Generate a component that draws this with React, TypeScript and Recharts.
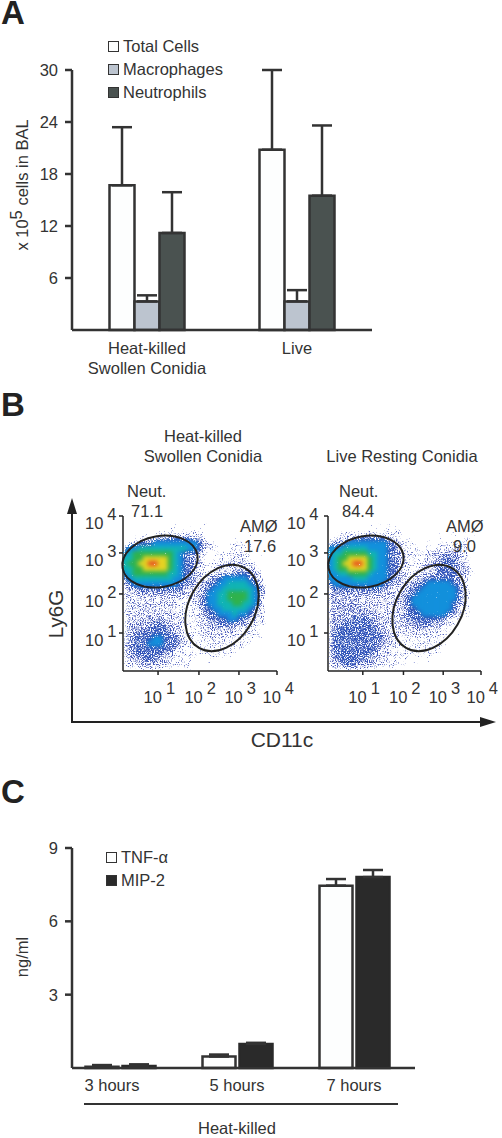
import {
  BarChart,
  Bar,
  ErrorBar,
  XAxis,
  YAxis,
  Legend,
  ScatterChart,
  Scatter,
} from 'recharts';

const FONT = '"Liberation Sans", Arial, sans-serif';
const INK = '#333333';

// panel A: cells in BAL
const cellGroups = ['Heat-killed\nSwollen Conidia', 'Live'];
const totalCells = [16.7, 20.8];
const totalCellsErr = [6.7, 9.2];
const macrophages = [3.3, 3.3];
const macrophagesErr = [0.7, 1.3];
const neutrophils = [11.2, 15.5];
const neutrophilsErr = [4.7, 8.1];
const cellTicks = [6, 12, 18, 24, 30];

const cellData = cellGroups.map((group, i) => ({
  group,
  total: totalCells[i],
  totalErr: [0, totalCellsErr[i]],
  mac: macrophages[i],
  macErr: [0, macrophagesErr[i]],
  neut: neutrophils[i],
  neutErr: [0, neutrophilsErr[i]],
}));

// panel C: cytokines
const hours = ['3 hours', '5 hours', '7 hours'];
const tnf = [0.05, 0.47, 7.46];
const tnfErr = [0.07, 0.08, 0.27];
const mip2 = [0.08, 0.98, 7.81];
const mip2Err = [0.07, 0.05, 0.29];
const cytokineTicks = [3, 6, 9];

const cytokineData = hours.map((hour, i) => ({
  hour,
  tnf: tnf[i],
  tnfErr: [0, tnfErr[i]],
  mip2: mip2[i],
  mip2Err: [0, mip2Err[i]],
}));

// panel B: flow plots, axes in channels 0-1024
const flowXTicks = [233, 505, 771, 1024];
const flowYTicks = [251, 509, 780, 1024];
const decades = ['1', '2', '3', '4'];

// density, 31 x 31 cells, top row first. '.' is empty
const heatKilledDensity = [
  '..............1................',
  '.......1..1..1..1..........1...',
  '.....1.1.11.1.11.......1.1.....',
  '..1.1.11111111111....1...1.1...',
  '..112223344444332.1.1.11.1.1...',
  '.334445555555554321..11111.1...',
  '45566666666665543211.111111.1..',
  '56777777776544321.11111211.1...',
  '66778888876544321.11112221.1...',
  '677889988765443211112222211....',
  '66778888876544321112222233211..',
  '5677777776654432112233344332...',
  '45666666665544321344555554321..',
  '34555555555444223445566665431..',
  '33344444444433233455666666542..',
  '22233333333321234556677776532..',
  '22222222222211234556677776531..',
  '22222222222111234556667766531..',
  '22222222222111134455666665421..',
  '22222222222211123445556554321..',
  '22223333322211123444455443211..',
  '22333344332211122334443332211..',
  '2333344443321111233333222211 1.',
  '2334444444321111222222211111...',
  '3344445544432111122211111111...',
  '33444555444321111211111111.....',
  '3344444444321111111111111.1....',
  '33444444332111111111111...1....',
  '223344433211111.1111.1.........',
  '12223332211111.1.1.1.....1.....',
  '11122222111111..1..........1...',
];

const liveRestingDensity = [
  '..........1.1...........1......',
  '...1....1.1.1..1.1.....1.......',
  '..1.1.1.11.1111.......1..1.1...',
  '..1111112111111.1...1.1.11.1.1.',
  '11223344444332111...1.11.1.11..',
  '334455555555442111..1.1111111.1',
  '55566666555544211111111223321..',
  '56677777665544321111223333321..',
  '56778888765544321111223444321..',
  '56788998765544321112233444321..',
  '567788887655443211122344443321.',
  '556677776555443211223344443321.',
  '55555666555544321233444444321..',
  '45555555555443222344555554421..',
  '34444444444332223445555555421..',
  '33333333333222234455555555421..',
  '33333332222222234555555555421..',
  '33333322222222234555555554321..',
  '33333333322222234455555554311..',
  '33333333332222234445555543211..',
  '3333344443322223444444432111...',
  '33344444433222223344433211.1...',
  '33444444443222222333322111.....',
  '3444444444432221122221111 1....',
  '3444444444432211111111111 .....',
  '344444444433221111111111.1.....',
  '344444444432211111111111.......',
  '34444444433221111111111...1....',
  '33444444332211111.1.1..........',
  '2334443332211111.11.1......1...',
  '12233322211111.1.........1.....',
];

const neutGates = { heatKilled: { x: 246, y: 723 }, live: { x: 254, y: 723 } };
const amGates = { heatKilled: { x: 658, y: 416 }, live: { x: 676, y: 416 } };

const DENSITY_COLORS: Record<string, string> = {
  '1': '#4c5cbc',
  '2': '#4c5cbc',
  '3': '#4256b8',
  '4': '#3054ba',
  '5': '#1290dc',
  '6': '#10b4b4',
  '7': '#2fb24c',
  '8': '#e6d422',
  '9': '#e84a24',
};

// low levels stay sparse: the grain filter below turns alpha into speckle
const DENSITY_ALPHA: Record<string, number> = {
  '1': 0.42,
  '2': 0.5,
  '3': 0.57,
  '4': 0.68,
};

function densityCells(rows: string[]) {
  const cells: { x: number; y: number; level: string }[] = [];
  const size = 1024 / rows.length;
  rows.forEach((row, r) => {
    row.split('').forEach((level, c) => {
      if (!DENSITY_COLORS[level]) return;
      cells.push({ x: (c + 0.5) * size, y: 1024 - (r + 0.5) * size, level });
    });
  });
  return cells;
}

function DensityCell({ cx, cy, payload }: any) {
  return (
    <rect
      x={cx - 2.5}
      y={cy - 2.5}
      width={5}
      height={5}
      fill={DENSITY_COLORS[payload.level]}
      fillOpacity={DENSITY_ALPHA[payload.level] ?? 1}
    />
  );
}

function NeutGate({ cx, cy }: any) {
  return (
    <ellipse cx={cx} cy={cy} rx={38} ry={25.5} fill="none" stroke="#222" strokeWidth={2}
      transform={`rotate(-10 ${cx} ${cy})`} />
  );
}

function AmGate({ cx, cy }: any) {
  return (
    <ellipse cx={cx} cy={cy} rx={46} ry={33} fill="none" stroke="#222" strokeWidth={2}
      transform={`rotate(-60 ${cx} ${cy})`} />
  );
}

function FlowXTick({ x, y, index }: any) {
  return (
    <text x={x - 14.5} y={y + 26} fontSize={16.5} fill={INK} fontFamily={FONT}>
      10
      <tspan dx={4} dy={-9}>{decades[index]}</tspan>
    </text>
  );
}

function FlowYTick({ x, y, index, shift }: any) {
  return (
    <text x={x + shift} y={y + 13} fontSize={16.5} fill={INK} fontFamily={FONT}>
      10
      <tspan dx={4} dy={-9}>{decades[index]}</tspan>
    </text>
  );
}

function FlowPlot({ rows, neut, am, left, width, right, labelShift }: any) {
  return (
    <div style={{ position: 'absolute', left, top: 500 }}>
      <ScatterChart width={width} height={215} margin={{ top: 16, right, bottom: 0, left: 0 }}>
        <XAxis
          type="number"
          dataKey="x"
          domain={[0, 1024]}
          ticks={flowXTicks}
          height={44}
          tickSize={4}
          tickLine={{ stroke: '#222', strokeWidth: 1.5 }}
          axisLine={{ stroke: '#222', strokeWidth: 1.5 }}
          tick={<FlowXTick />}
        />
        <YAxis
          type="number"
          dataKey="y"
          domain={[0, 1024]}
          ticks={flowYTicks}
          width={45}
          tickSize={4}
          tickLine={{ stroke: '#222', strokeWidth: 1.5 }}
          axisLine={{ stroke: '#222', strokeWidth: 1.5 }}
          tick={<FlowYTick shift={labelShift} />}
        />
        <Scatter className="density" data={densityCells(rows)} shape={<DensityCell />} isAnimationActive={false} />
        <Scatter data={[neut]} shape={<NeutGate />} isAnimationActive={false} />
        <Scatter data={[am]} shape={<AmGate />} isAnimationActive={false} />
      </ScatterChart>
    </div>
  );
}

function GroupTick({ x, y, payload }: any) {
  const lines = String(payload.value).split('\n');
  return (
    <text x={x} y={y + 16} textAnchor="middle" fontSize={16.5} fill={INK} fontFamily={FONT}>
      {lines.map((line, i) => (
        <tspan key={line} x={x} dy={i === 0 ? 0 : 20}>{line}</tspan>
      ))}
    </text>
  );
}

function HourTick({ x, y, payload, index }: any) {
  return (
    <text x={index === 0 ? x - 8 : x} y={y + 15} textAnchor="middle" fontSize={16.5} fill={INK} fontFamily={FONT}>
      {payload.value}
    </text>
  );
}

function LegendRows({ items, rowHeight }: any) {
  return (
    <div>
      {items.map((item: any) => (
        <div key={item.label} style={{ display: 'flex', alignItems: 'center', height: rowHeight, fontSize: 16.5, color: INK, fontFamily: FONT }}>
          <span style={{ width: 9, height: 9, background: item.fill, border: '1.5px solid #333', marginRight: 4, flex: 'none' }} />
          {item.label}
        </div>
      ))}
    </div>
  );
}

const cellLegend = [
  { label: 'Total Cells', fill: '#fdfefe' },
  { label: 'Macrophages', fill: '#bcc4cf' },
  { label: 'Neutrophils', fill: '#4a5250' },
];
const cytokineLegend = [
  { label: 'TNF-α', fill: '#fdfefe' },
  { label: 'MIP-2', fill: '#2a2a2a' },
];

const axisStroke = { stroke: INK, strokeWidth: 2.5 };

function CellsChart() {
  return (
    <div style={{ position: 'absolute', left: 0, top: 0 }}>
      <BarChart
        width={502}
        height={390}
        data={cellData}
        margin={{ top: 70, right: 130, bottom: 0, left: 0 }}
        barGap={0}
        barCategoryGap="25%"
      >
        <XAxis dataKey="group" height={60} tickLine={false} axisLine={axisStroke} tick={<GroupTick />} interval={0} />
        <YAxis
          domain={[0, 30]}
          ticks={cellTicks}
          width={72}
          tickSize={7}
          tickMargin={7}
          tickLine={axisStroke}
          axisLine={axisStroke}
          tick={{ fontSize: 16.5, fill: INK, fontFamily: FONT }}
          interval={0}
        />
        <Legend
          layout="vertical"
          align="center"
          verticalAlign="middle"
          wrapperStyle={{ position: 'absolute', left: 108, top: 35, width: 140 }}
          content={() => <LegendRows items={cellLegend} rowHeight={23} />}
        />
        <Bar dataKey="total" fill="#fdfefe" stroke={INK} strokeWidth={2.5} isAnimationActive={false}>
          <ErrorBar dataKey="totalErr" direction="y" width={10} stroke={INK} strokeWidth={2.5} isAnimationActive={false} />
        </Bar>
        <Bar dataKey="mac" fill="#bcc4cf" stroke={INK} strokeWidth={2.5} isAnimationActive={false}>
          <ErrorBar dataKey="macErr" direction="y" width={10} stroke={INK} strokeWidth={2.5} isAnimationActive={false} />
        </Bar>
        <Bar dataKey="neut" fill="#4a5250" stroke={INK} strokeWidth={2.5} isAnimationActive={false}>
          <ErrorBar dataKey="neutErr" direction="y" width={10} stroke={INK} strokeWidth={2.5} isAnimationActive={false} />
        </Bar>
      </BarChart>
    </div>
  );
}

function CytokineChart() {
  return (
    <div style={{ position: 'absolute', left: 0, top: 820 }}>
      <BarChart
        width={502}
        height={300}
        data={cytokineData}
        margin={{ top: 28, right: 87, bottom: 0, left: 0 }}
        barGap={4}
        barSize={33}
      >
        <XAxis
          dataKey="hour"
          height={52}
          padding={{ left: -10.5, right: 2.5 }}
          tickLine={false}
          axisLine={axisStroke}
          tick={<HourTick />}
          interval={0}
        />
        <YAxis
          domain={[0, 9]}
          ticks={cytokineTicks}
          width={72}
          tickSize={7}
          tickMargin={7}
          tickLine={axisStroke}
          axisLine={axisStroke}
          tick={{ fontSize: 16.5, fill: INK, fontFamily: FONT }}
          interval={0}
        />
        <Legend
          layout="vertical"
          align="center"
          verticalAlign="middle"
          wrapperStyle={{ position: 'absolute', left: 106, top: 26, width: 120 }}
          content={() => <LegendRows items={cytokineLegend} rowHeight={23} />}
        />
        <Bar dataKey="tnf" fill="#fdfefe" stroke={INK} strokeWidth={2.5} isAnimationActive={false}>
          <ErrorBar dataKey="tnfErr" direction="y" width={10} stroke={INK} strokeWidth={2.5} isAnimationActive={false} />
        </Bar>
        <Bar dataKey="mip2" fill="#2a2a2a" stroke="#2a2a2a" strokeWidth={2.5} isAnimationActive={false}>
          <ErrorBar dataKey="mip2Err" direction="y" width={10} stroke={INK} strokeWidth={2.5} isAnimationActive={false} />
        </Bar>
      </BarChart>
    </div>
  );
}

// panel letters, titles and the big arrows of panel B
function Annotations() {
  const t = { fontFamily: FONT, fill: INK, fontSize: 16.5 };
  const letter = { fontFamily: FONT, fill: '#222', fontSize: 33, fontWeight: 700 };
  return (
    <svg width={502} height={1138} style={{ position: 'absolute', left: 0, top: 0, pointerEvents: 'none' }}>
      <text x={1} y={24} {...letter}>A</text>
      <text x={1} y={416} {...letter}>B</text>
      <text x={1} y={803} {...letter}>C</text>

      <text transform="translate(28 185) rotate(-90)" textAnchor="middle" {...t}>
        x 10<tspan dy={-6}>5</tspan><tspan dy={6}> cells in BAL</tspan>
      </text>

      <text x={203} y={442} textAnchor="middle" {...t}>Heat-killed</text>
      <text x={203} y={462} textAnchor="middle" {...t}>Swollen Conidia</text>
      <text x={402} y={462} textAnchor="middle" {...t}>Live Resting Conidia</text>

      <text x={127} y={497} {...t}>Neut.</text>
      <text x={131} y={517} {...t}>71.1</text>
      <text x={240} y={532} {...t}>AMØ</text>
      <text x={244} y={552} {...t}>17.6</text>
      <text x={339} y={497} {...t}>Neut.</text>
      <text x={342} y={517} {...t}>84.4</text>
      <text x={446} y={532} {...t}>AMØ</text>
      <text x={453} y={552} {...t}>9.0</text>

      <line x1={72} y1={510} x2={72} y2={722} stroke="#222" strokeWidth={2} />
      <line x1={71} y1={722} x2={484} y2={722} stroke="#222" strokeWidth={2} />
      <polygon points="72,498 67,514 77,514" fill="#222" />
      <polygon points="496,722 480,717 480,727" fill="#222" />
      <text transform="translate(63 614) rotate(-90)" textAnchor="middle" {...t} fontSize={20.5}>Ly6G</text>
      <text x={282} y={747} textAnchor="middle" {...t} fontSize={21}>CD11c</text>

      <text transform="translate(28 957) rotate(-90)" textAnchor="middle" {...t}>ng/ml</text>
      <line x1={84} y1={1104} x2={398} y2={1104} stroke={INK} strokeWidth={2} />
      <text x={237} y={1134} textAnchor="middle" {...t}>Heat-killed</text>
    </svg>
  );
}

// smooths the density cells and breaks the sparse ones up into dots, the way
// a dot plot looks. The filter region is the plot area, so nothing spills past the axes
function GrainFilter() {
  return (
    <svg width={0} height={0} style={{ position: 'absolute' }}>
      <filter
        id="grain"
        filterUnits="userSpaceOnUse"
        x={45}
        y={16}
        width={154}
        height={155}
        colorInterpolationFilters="sRGB"
      >
        <feGaussianBlur in="SourceGraphic" stdDeviation={2.2} result="soft" />
        <feComponentTransfer in="soft" result="solid">
          <feFuncA type="linear" slope={40} />
        </feComponentTransfer>
        <feTurbulence type="fractalNoise" baseFrequency={0.9} numOctaves={2} seed={7} result="noise" />
        <feComposite in="soft" in2="noise" operator="arithmetic" k1={0} k2={1} k3={1} k4={-1} result="sum" />
        <feComponentTransfer in="sum" result="mask">
          <feFuncA type="linear" slope={5} />
        </feComponentTransfer>
        <feComposite in="solid" in2="mask" operator="in" />
      </filter>
    </svg>
  );
}

export default function App() {
  return (
    <div style={{ position: 'absolute', left: 0, top: 0, width: 502, height: 1138, background: '#fff', overflow: 'hidden' }}>
      <style>{'.density { filter: url(#grain); }'}</style>
      <GrainFilter />
      <CellsChart />
      <FlowPlot rows={heatKilledDensity} neut={neutGates.heatKilled} am={amGates.heatKilled} left={78} width={225} right={26} labelShift={-32} />
      <FlowPlot rows={liveRestingDensity} neut={neutGates.live} am={amGates.live} left={283} width={219} right={21} labelShift={-35} />
      <CytokineChart />
      <Annotations />
    </div>
  );
}
